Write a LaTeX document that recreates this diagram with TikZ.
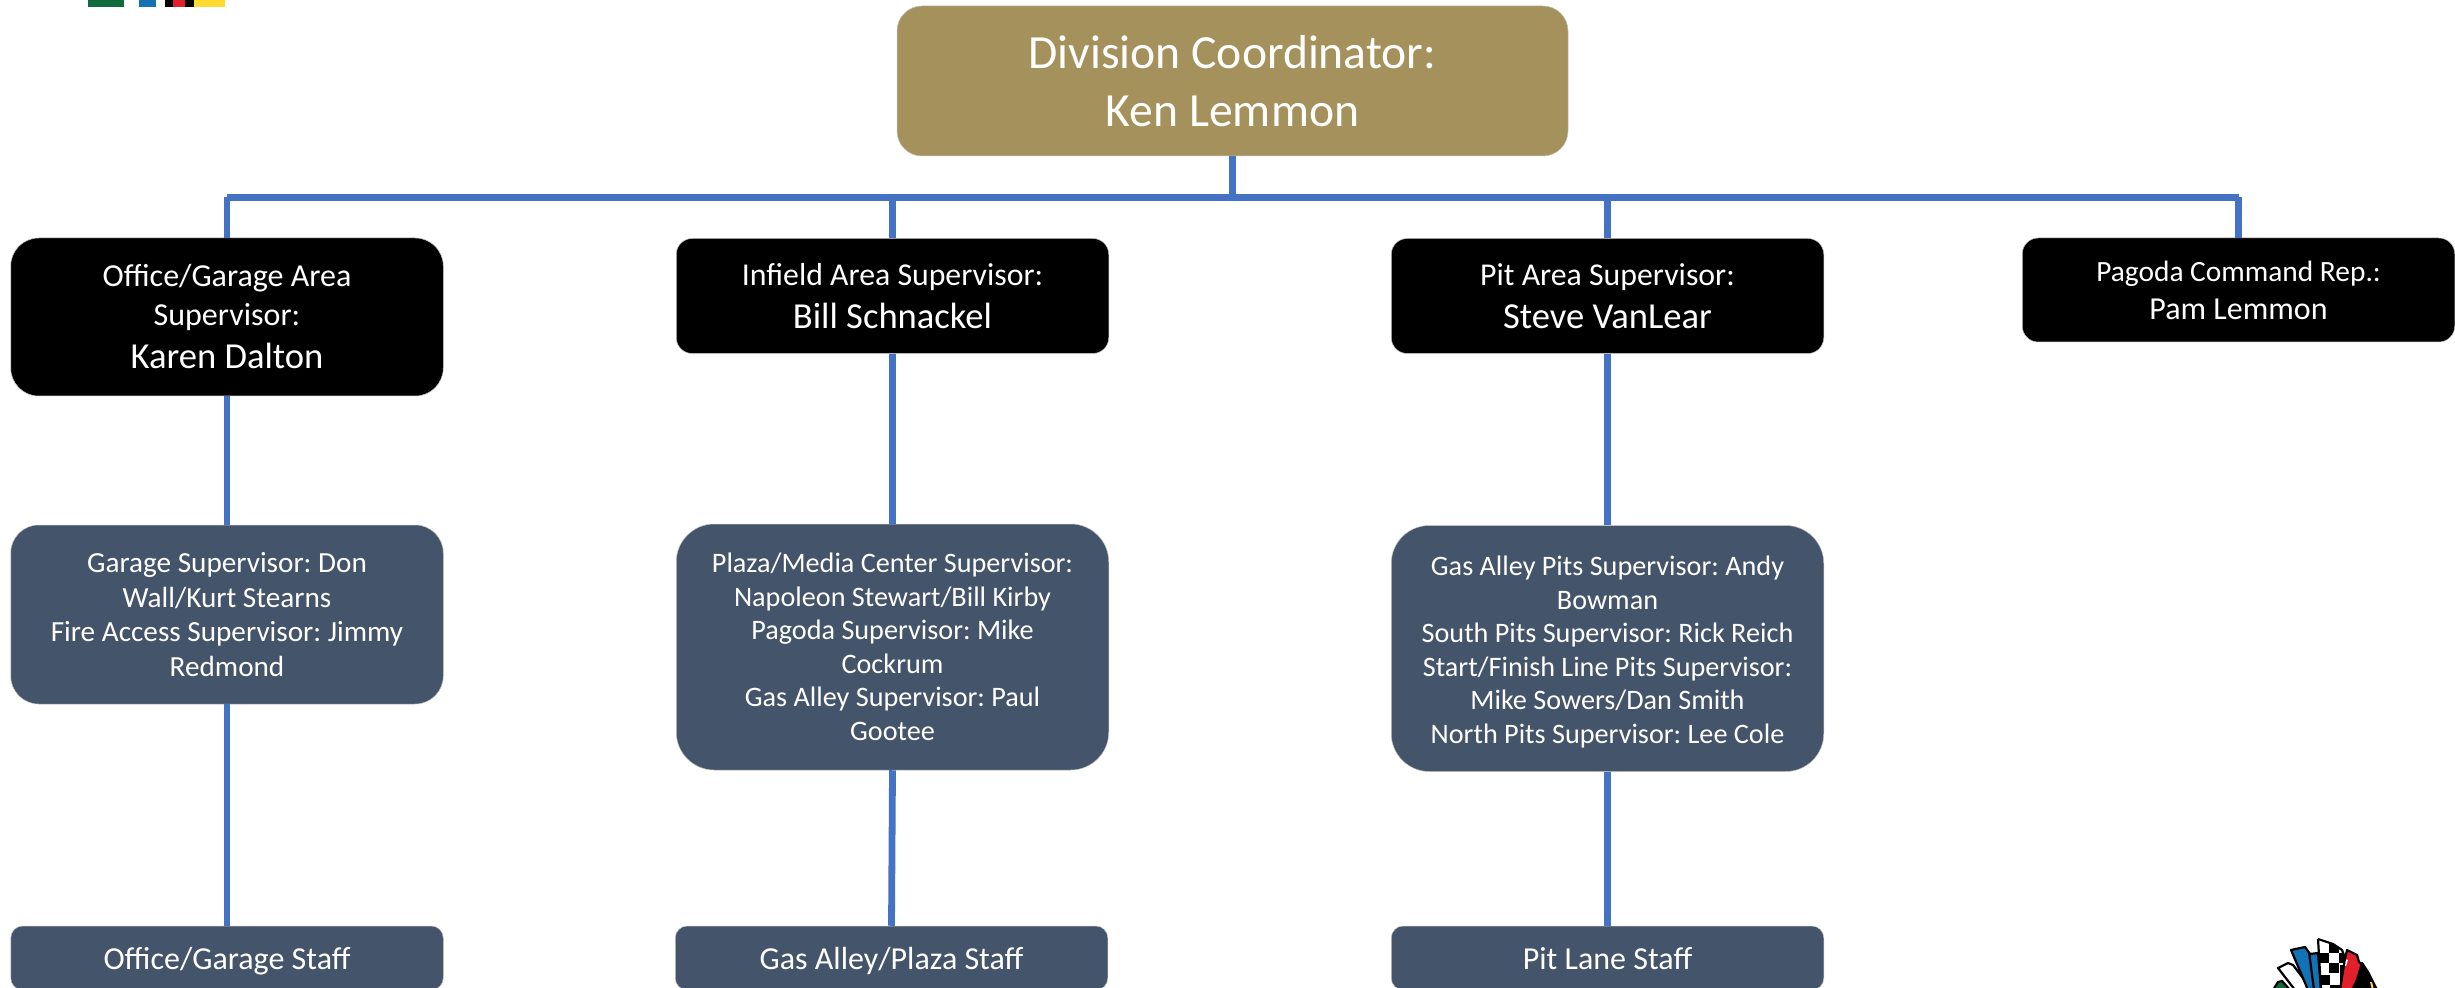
\documentclass[tikz,border=0pt]{standalone}
\usepackage{fontspec}
\setmainfont{Carlito}
\frenchspacing
\definecolor{gold}{HTML}{A5915B}
\definecolor{slate}{HTML}{44546A}
\definecolor{link}{HTML}{4472C4}
\definecolor{lgreen}{HTML}{0F6B3C}
\definecolor{lblue}{HTML}{1272B5}
\definecolor{lred}{HTML}{E2202C}
\definecolor{lyellow}{HTML}{FFDB2E}
\newcommand{\LL}{\fontsize{23.8}{29}\selectfont}
\newcommand{\ML}{\fontsize{16}{19.5}\selectfont}
\newcommand{\IL}{\fontsize{15.9}{19.5}\selectfont}
\newcommand{\BL}{\fontsize{18.3}{22}\selectfont}
\newcommand{\PL}{\fontsize{14.7}{18.5}\selectfont}
\newcommand{\PM}{\fontsize{16}{18.5}\selectfont}
\newcommand{\SL}{\fontsize{14.1}{16.75}\selectfont}
\newcommand{\GL}{\fontsize{14.6}{17.25}\selectfont}
\tikzset{
  x=0.5pt,y=-0.5pt,
  box/.style={rectangle,inner sep=0pt,text=white,align=center,draw=white!75!black,line width=0.25pt,minimum width=216.25pt},
  goldbox/.style={box,fill=gold,rounded corners=12.5pt,minimum width=335.5pt,minimum height=75pt,font=\LL},
  blackbox/.style={box,fill=black},
  slatebox/.style={box,fill=slate},
  staffbox/.style={slatebox,rounded corners=6pt,minimum height=32pt,font=\ML,text height=12pt,text depth=1pt},
  conn/.style={draw=link,line width=3.4pt},
  logoline/.style={draw=black,line width=1.1pt,line join=round}
}
\begin{document}
\begin{tikzpicture}
\useasboundingbox (0,0) rectangle (2455,988);
\begin{scope}
\clip (0,0) rectangle (2455,988);
% logo fragments, top left
\fill[lgreen] (88,0) rectangle (124,7);
\fill[lblue] (139,0) rectangle (156,7);
\fill[black] (165,0) rectangle (194,7);
\fill[lred] (173,0) rectangle (185,7);
\fill[lyellow] (194,0) rectangle (225,7);
% logo fragment, bottom right
\filldraw[fill=lgreen,logoline] (2273,990) -- (2278,982) -- (2282,981) -- (2290,990) -- cycle;
\filldraw[fill=white,logoline] (2278,968) -- (2288,963) -- (2293,965) -- (2312,990) -- (2295,990) -- cycle;
\filldraw[fill=lblue,logoline] (2291,950) -- (2305,947) -- (2310,954) -- (2318,953) -- (2321,990) -- (2308,990) -- cycle;
\draw[logoline] (2309,952) -- (2314,990);
\filldraw[fill=lred,logoline] (2347,950) -- (2357,955) -- (2359,962) -- (2364,966) -- (2352,990) -- (2338,990) -- cycle;
\filldraw[fill=black,logoline] (2362,963) -- (2368,972) -- (2372,980) -- (2377,990) -- (2354,990) -- cycle;
\fill[lyellow] (2370,982) -- (2372,982) -- (2374,990) -- (2372,990) -- cycle;
\fill[white] (2341,958) -- (2348,960) -- (2346,966) -- (2339,965) -- cycle;
\begin{scope}
\clip (2318,939) -- (2333,944) -- (2342,950) -- (2345,958) -- (2340,990) -- (2321,990) -- cycle;
\fill[white] (2310,935) rectangle (2350,990);
\foreach \cx/\cy in {2329/943,2319/953,2339/953,2329/963,2320/975,2340/975,2330/985,2340/965}
  \fill[black] (\cx,\cy) rectangle +(10,10);
\end{scope}
\draw[logoline] (2318,939) -- (2333,944) -- (2342,950) -- (2345,958) -- (2340,990);
\draw[logoline] (2318,939) -- (2321,990);
\end{scope}

\node[goldbox] (chief) at (1232.5,81) {Division Coordinator:\\Ken Lemmon};

\node[blackbox,font=\ML,rounded corners=14pt,minimum height=79pt] (office) at (227,317) {Office/Garage Area\\Supervisor:\\[2pt]\BL Karen Dalton};
\node[blackbox,font=\ML,rounded corners=8pt,minimum height=57.5pt] (infield) at (892.5,296) {\IL Infield Area Supervisor:\\[2pt]\BL Bill Schnackel};
\node[blackbox,font=\ML,rounded corners=8pt,minimum height=57.5pt] (pit) at (1607.5,296) {\IL Pit Area Supervisor:\\[2pt]\BL Steve VanLear};
\node[blackbox,font=\PL,rounded corners=8pt,minimum height=52pt] (pagoda) at (2238.5,290) {Pagoda Command Rep.:\\[0.5pt]\PM Pam Lemmon};

\node[slatebox,font=\GL,rounded corners=14pt,minimum height=89.5pt] (garage) at (227,614.5) {Garage Supervisor: Don\\Wall/Kurt Stearns\\Fire Access Supervisor: Jimmy\\Redmond};
\node[slatebox,font=\SL,rounded corners=19pt,minimum height=123pt] (plaza) at (892.5,647) {Plaza/Media Center Supervisor:\\Napoleon Stewart/Bill Kirby\\Pagoda Supervisor: Mike\\Cockrum\\Gas Alley Supervisor: Paul\\Gootee};
\node[slatebox,font=\SL,rounded corners=19pt,minimum height=123pt] (pits) at (1607.5,648.5) {\rule{0pt}{13.3pt}Gas Alley Pits Supervisor: Andy\\Bowman\\South Pits Supervisor: Rick Reich\\Start/Finish Line Pits Supervisor:\\Mike Sowers/Dan Smith\\North Pits Supervisor: Lee Cole};

\node[staffbox] (ostaff) at (227,958) {Office/Garage Staff};
\node[staffbox] (gstaff) at (891.5,958) {Gas Alley/Plaza Staff};
\node[staffbox] (pstaff) at (1607.5,958) {Pit Lane Staff};

\coordinate (busmid) at (chief.south |- 0,197.5);
\draw[conn] (chief.south) -- (busmid);
\draw[conn] (office.north |- busmid) -- (pagoda.north |- busmid);
\draw[conn] (office.north |- busmid) -- (office.north);
\draw[conn] (infield.north |- busmid) -- (infield.north);
\draw[conn] (pit.north |- busmid) -- (pit.north);
\draw[conn] (pagoda.north |- busmid) -- (pagoda.north);
\draw[conn] (office.south) -- (garage.north);
\draw[conn] (garage.south) -- (ostaff.north);
\draw[conn] (infield.south) -- (plaza.north);
\draw[conn] (plaza.south) -- (gstaff.north);
\draw[conn] (pit.south) -- (pits.north);
\draw[conn] (pits.south) -- (pstaff.north);
\end{tikzpicture}
\end{document}
